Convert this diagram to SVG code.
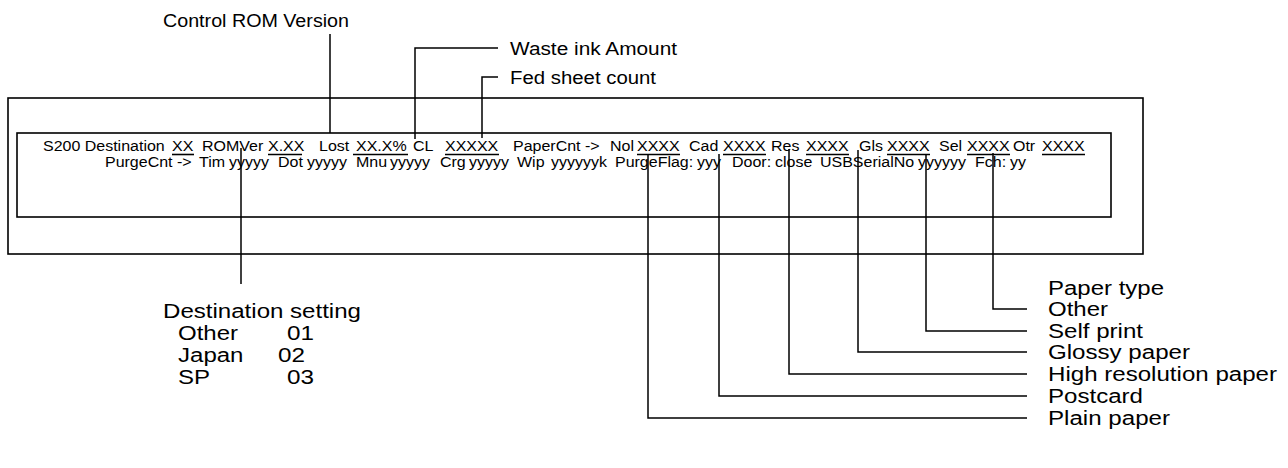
<svg xmlns="http://www.w3.org/2000/svg" width="1288" height="468" viewBox="0 0 1288 468">
<style>
.t{font-family:"Liberation Sans",Arial,sans-serif;fill:#000}
.s{font-size:14.5px}
.m{font-size:17.5px}
.l{font-size:19.5px}
.box{fill:none;stroke:#000;stroke-width:1.6}
.c{fill:none;stroke:#000;stroke-width:1.5}
.u{stroke:#000;stroke-width:1.6}
</style>
<rect width="1288" height="468" fill="#fff"/>
<g id="display">
<rect class="box" x="8" y="98" width="1135" height="156"/>
<rect class="box" x="17" y="133" width="1094" height="84"/>
<g transform="scale(1.103448,1)">
<text class="t s" y="151"><tspan x="38.97">S200 Destination</tspan><tspan x="155.88">XX</tspan><tspan x="183.06">ROMVer</tspan><tspan x="242.88">X.XX</tspan><tspan x="289.09">Lost</tspan><tspan x="322.63">XX.X%</tspan><tspan x="374.28">CL</tspan><tspan x="403.28">XXXXX</tspan><tspan x="464.91">PaperCnt -&gt;</tspan><tspan x="552.81">Nol</tspan><tspan x="577.28">XXXX</tspan><tspan x="624.41">Cad</tspan><tspan x="655.22">XXXX</tspan><tspan x="698.72">Res</tspan><tspan x="730.44">XXXX</tspan><tspan x="778.47">Gls</tspan><tspan x="803.84">XXXX</tspan><tspan x="850.97">Sel</tspan><tspan x="876.34">XXXX</tspan><tspan x="918.03">Otr</tspan><tspan x="944.31">XXXX</tspan></text>
<text class="t s" y="167.5"><tspan x="95.16">PurgeCnt -&gt;</tspan><tspan x="180.34">Tim</tspan><tspan x="207.53">yyyyy</tspan><tspan x="251.94">Dot</tspan><tspan x="278.22">yyyyy</tspan><tspan x="322.63">Mnu</tspan><tspan x="353.44">yyyyy</tspan><tspan x="398.75">Crg</tspan><tspan x="425.03">yyyyy</tspan><tspan x="468.53">Wip</tspan><tspan x="499.34">yyyyyyk</tspan><tspan x="557.34">PurgeFlag:</tspan><tspan x="631.66">yyy</tspan><tspan x="663.38">Door:</tspan><tspan x="702.34">close</tspan><tspan x="743.13">USBSerialNo</tspan><tspan x="831.94">yyyyyy</tspan><tspan x="883.59">Fch:</tspan><tspan x="915.31">yy</tspan></text>
</g>
<g class="u">
<line x1="172" y1="154.5" x2="194" y2="154.5"/>
<line x1="268" y1="154.5" x2="302" y2="154.5"/>
<line x1="353" y1="154.5" x2="408" y2="154.5"/>
<line x1="445" y1="154.5" x2="499" y2="154.5"/>
<line x1="637" y1="154.5" x2="680" y2="154.5"/>
<line x1="723" y1="154.5" x2="766" y2="154.5"/>
<line x1="806" y1="154.5" x2="849" y2="154.5"/>
<line x1="887" y1="154.5" x2="930" y2="154.5"/>
<line x1="967" y1="154.5" x2="1010" y2="154.5"/>
<line x1="1042" y1="154.5" x2="1085" y2="154.5"/>
</g>
</g>
<g id="connectors">
<path class="c" d="M330,34 V133"/>
<path class="c" d="M498,48 H415 V139"/>
<path class="c" d="M498,77 H482 V138"/>
<path class="c" d="M241,148 V284"/>
<path class="c" d="M993,153 V309 H1027"/>
<path class="c" d="M926,154 V331 H1027"/>
<path class="c" d="M858,150 V352 H1027"/>
<path class="c" d="M789,149 V374 H1027"/>
<path class="c" d="M719,154 V396 H1027"/>
<path class="c" d="M648,154 V418 H1027"/>
</g>
<g id="label-control-rom"><text class="t m" x="163" y="27" textLength="186" lengthAdjust="spacingAndGlyphs">Control ROM Version</text></g>
<g id="label-waste-ink"><text class="t m" x="510" y="54.5" textLength="167" lengthAdjust="spacingAndGlyphs">Waste ink Amount</text></g>
<g id="label-fed-sheet"><text class="t m" x="510" y="83.5" textLength="146" lengthAdjust="spacingAndGlyphs">Fed sheet count</text></g>
<g id="label-destination">
<text class="t l" x="163" y="318" textLength="198" lengthAdjust="spacingAndGlyphs">Destination setting</text>
<text class="t l" x="178" y="340" textLength="60" lengthAdjust="spacingAndGlyphs">Other</text>
<text class="t l" x="287" y="340" textLength="27" lengthAdjust="spacingAndGlyphs">01</text>
<text class="t l" x="178" y="362" textLength="65.5" lengthAdjust="spacingAndGlyphs">Japan</text>
<text class="t l" x="278" y="362" textLength="27" lengthAdjust="spacingAndGlyphs">02</text>
<text class="t l" x="178" y="384" textLength="32" lengthAdjust="spacingAndGlyphs">SP</text>
<text class="t l" x="287" y="384" textLength="27" lengthAdjust="spacingAndGlyphs">03</text>
</g>
<g id="label-paper-type">
<text class="t l" x="1048" y="295" textLength="116" lengthAdjust="spacingAndGlyphs">Paper type</text>
<text class="t l" x="1048" y="316" textLength="60" lengthAdjust="spacingAndGlyphs">Other</text>
<text class="t l" x="1048" y="338" textLength="95" lengthAdjust="spacingAndGlyphs">Self print</text>
<text class="t l" x="1048" y="359" textLength="142" lengthAdjust="spacingAndGlyphs">Glossy paper</text>
<text class="t l" x="1048" y="381" textLength="229" lengthAdjust="spacingAndGlyphs">High resolution paper</text>
<text class="t l" x="1048" y="403" textLength="95" lengthAdjust="spacingAndGlyphs">Postcard</text>
<text class="t l" x="1048" y="425" textLength="122" lengthAdjust="spacingAndGlyphs">Plain paper</text>
</g>
</svg>
